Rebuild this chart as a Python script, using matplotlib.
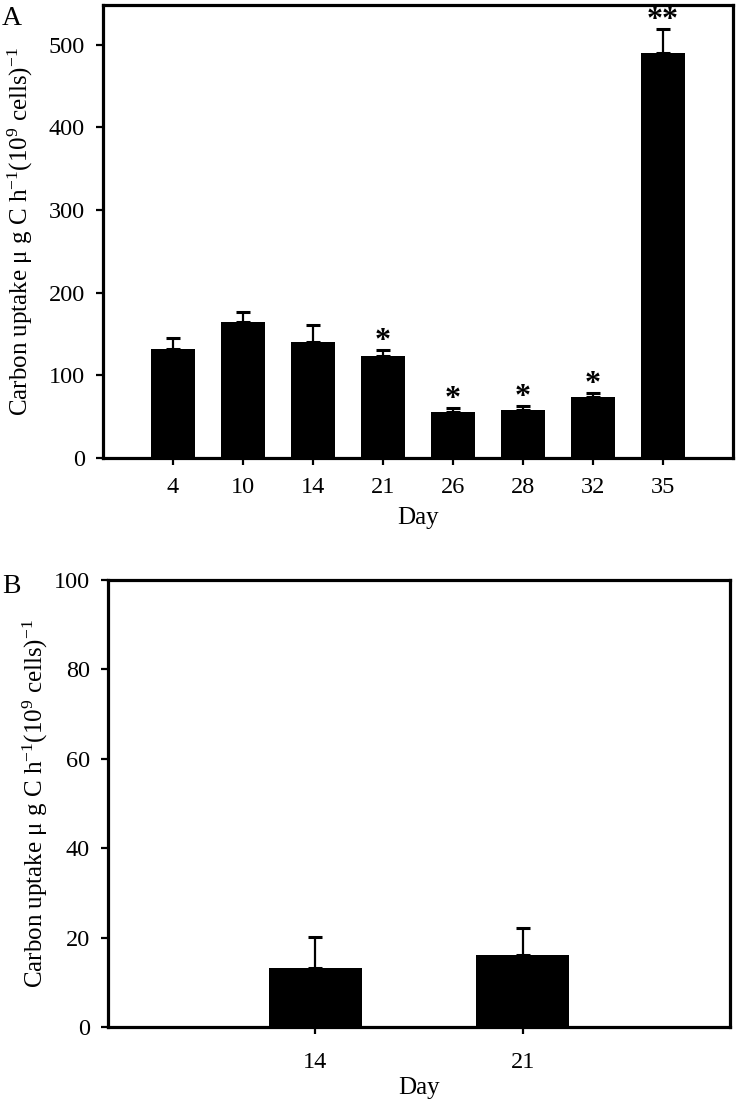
import numpy as np
import matplotlib
matplotlib.use("Agg")
import matplotlib.pyplot as plt

plt.rcParams["font.family"] = "Liberation Serif"
plt.rcParams["mathtext.fontset"] = "custom"
plt.rcParams["mathtext.rm"] = "Liberation Serif"
plt.rcParams["mathtext.it"] = "Liberation Serif:italic"

# Panel A data
days_a = ["4", "10", "14", "21", "26", "28", "32", "35"]
uptake_a = [132, 165, 140, 123, 56, 58, 74, 490]
err_a = [13, 12, 21, 8, 5, 5, 5, 29]
marks_a = ["", "", "", "*", "*", "*", "*", "**"]

# Panel B data
days_b = ["14", "21"]
uptake_b = [13.2, 16.1]
err_b = [7.0, 6.1]

ylabel = r"Carbon uptake μ g C h$^{\mathrm{-1}}$(10$^{\mathrm{9}}$ cells)$^{\mathrm{-1}}$"

fig = plt.figure(figsize=(7.38, 11.02), dpi=100)
ax_a = fig.add_axes([0.1396, 0.5844, 0.8537, 0.4111])
ax_b = fig.add_axes([0.1463, 0.0681, 0.8428, 0.4056])


def style_axis(ax, xpad):
    for sp in ax.spines.values():
        sp.set_linewidth(2.3)
        sp.set_color("black")
    ax.tick_params(axis="both", direction="out", length=5, width=1.6,
                   labelsize=17.5)
    ax.tick_params(axis="y", pad=8)
    ax.tick_params(axis="x", pad=xpad)


# ---- Panel A ----
x_a = np.arange(len(days_a))
ax_a.bar(x_a, uptake_a, width=0.63, color="black", zorder=2)
ax_a.errorbar(x_a, uptake_a, yerr=[np.zeros(len(err_a)), err_a], fmt="none",
              ecolor="black", elinewidth=1.6, capsize=5, capthick=2.2, zorder=3)
for xi, v, e, m in zip(x_a, uptake_a, err_a, marks_a):
    if m:
        ax_a.annotate(m, (xi, v + e), xytext=(0, 0.5), textcoords="offset points",
                      ha="center", va="baseline", fontsize=23, fontweight="bold")
ax_a.set_xlim(-1, 8)
ax_a.set_ylim(0, 548)
ax_a.set_xticks(x_a)
ax_a.set_xticklabels(days_a)
ax_a.set_yticks([0, 100, 200, 300, 400, 500])
ax_a.set_xlabel("Day", fontsize=18, labelpad=6)
ax_a.set_ylabel(ylabel, fontsize=18, labelpad=10)
style_axis(ax_a, 9)

# ---- Panel B ----
x_b = np.arange(len(days_b))
ax_b.bar(x_b, uptake_b, width=0.45, color="black", zorder=2)
ax_b.errorbar(x_b, uptake_b, yerr=[np.zeros(len(err_b)), err_b], fmt="none",
              ecolor="black", elinewidth=1.6, capsize=5, capthick=2.2, zorder=3)
ax_b.set_xlim(-1, 2)
ax_b.set_ylim(0, 100)
ax_b.set_xticks(x_b)
ax_b.set_xticklabels(days_b)
ax_b.set_yticks([0, 20, 40, 60, 80, 100])
ax_b.set_xlabel("Day", fontsize=18, labelpad=3)
ax_b.set_ylabel(ylabel, fontsize=18, labelpad=3)
style_axis(ax_b, 13)

fig.text(0.003, 0.995, "A", fontsize=20, ha="left", va="top")
fig.text(0.003, 0.479, "B", fontsize=20, ha="left", va="top")

fig.savefig("out.png", dpi=100)
